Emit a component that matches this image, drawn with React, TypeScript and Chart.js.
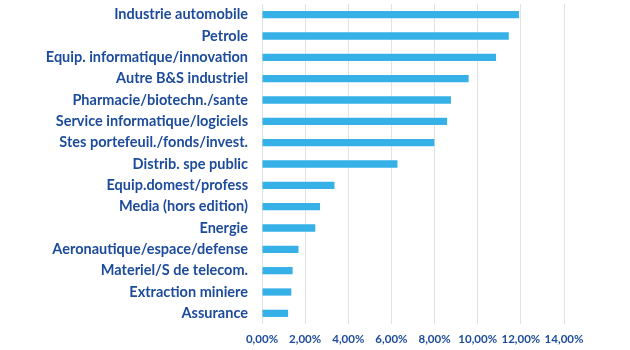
import React, { useEffect, useRef } from "react";
import { Chart, registerables } from "chart.js";

Chart.register(...registerables);

const categories = [
  "Industrie automobile",
  "Petrole",
  "Equip. informatique/innovation",
  "Autre B&S industriel",
  "Pharmacie/biotechn./sante",
  "Service informatique/logiciels",
  "Stes portefeuil./fonds/invest.",
  "Distrib. spe public",
  "Equip.domest/profess",
  "Media (hors edition)",
  "Energie",
  "Aeronautique/espace/defense",
  "Materiel/S de telecom.",
  "Extraction miniere",
  "Assurance",
];

const values = [11.91, 11.44, 10.85, 9.58, 8.76, 8.58, 7.99, 6.28, 3.36, 2.69, 2.47, 1.69, 1.42, 1.36, 1.21];

const xTicks = [0, 2, 4, 6, 8, 10, 12, 14];

const TEXT = "#1c4b9b";
const BAR = "#35b1e8";

export default function App() {
  const ref = useRef<HTMLCanvasElement | null>(null);
  useEffect(() => {
    if (!ref.current) return;
    const chart = new Chart(ref.current, {
      type: "bar",
      data: {
        labels: categories,
        datasets: [
          {
            data: values,
            backgroundColor: BAR,
            borderWidth: 0,
            barPercentage: 0.34,
            categoryPercentage: 1,
          },
        ],
      },
      options: {
        indexAxis: "y",
        responsive: false,
        animation: false,
        layout: { padding: { top: 4, right: 66, left: 0, bottom: 0 } },
        plugins: { legend: { display: false }, tooltip: { enabled: false } },
        scales: {
          x: {
            min: xTicks[0],
            max: xTicks[xTicks.length - 1],
            afterBuildTicks: (scale: any) => {
              scale.ticks = xTicks.map((v) => ({ value: v }));
            },
            afterFit: (scale: any) => {
              scale.height = 26;
              scale.paddingLeft = 0;
              scale.paddingRight = 0;
            },
            grid: { color: "#e3e3e3", drawTicks: false, lineWidth: 1 },
            border: { display: false },
            ticks: {
              color: TEXT,
              padding: 8,
              maxRotation: 0,
              minRotation: 0,
              autoSkip: false,
              font: { family: "Lato", weight: "bold", size: 11.5 },
              callback: (v: any) => Number(v).toFixed(2).replace(".", ",") + "%",
            },
          },
          y: {
            afterFit: (scale: any) => {
              scale.width = 262;
              scale.paddingTop = 0;
              scale.paddingBottom = 0;
            },
            grid: { display: false, drawTicks: false },
            border: { display: false },
            ticks: {
              color: TEXT,
              padding: 14,
              autoSkip: false,
              font: { family: "Lato", weight: "bold", size: 14.5 },
            },
          },
        },
      },
    });
    return () => chart.destroy();
  }, []);
  return (
    <div style={{ position: "fixed", left: 0, top: 0, width: 630, height: 350, background: "#fff" }}>
      <canvas ref={ref} width={630} height={350} style={{ width: 630, height: 350 }} />
    </div>
  );
}
